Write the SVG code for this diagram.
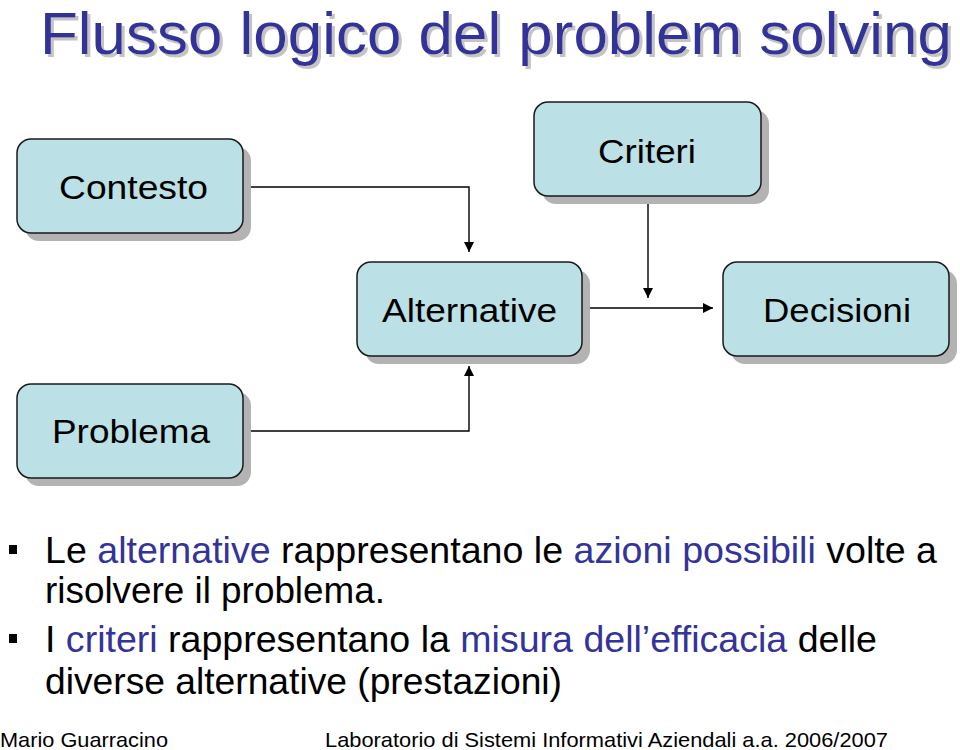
<svg xmlns="http://www.w3.org/2000/svg" width="960" height="750" viewBox="0 0 960 750">
<style>
text{font-family:"Liberation Sans",Arial,sans-serif}
.shadow{fill:#b3b3b3}
.box{fill:#bbe0e5;stroke:#1a1a1a;stroke-width:1.5}
.lbl{font-size:34px;fill:#000}
.body{font-size:37px;fill:#000}
.hl{fill:#333399}
.foot{font-size:21px;fill:#000}
.conn{fill:none;stroke:#000;stroke-width:1.4}
</style>
<defs>
<marker id="ah" viewBox="0 0 10 10" refX="10" refY="5" markerWidth="10" markerHeight="10" markerUnits="userSpaceOnUse" orient="auto">
<path d="M0,0 L10,5 L0,10 Z" fill="#000"/>
</marker>
<filter id="tshadow" x="-5%" y="-20%" width="110%" height="140%">
<feOffset in="SourceAlpha" dx="3" dy="3" result="off"/>
<feFlood flood-color="#c4c4c4"/>
<feComposite in2="off" operator="in" result="sh"/>
<feMerge><feMergeNode in="sh"/><feMergeNode in="SourceGraphic"/></feMerge>
</filter>
</defs>
<rect width="960" height="750" fill="#fff"/>
<g id="title">
<text x="40" y="54" font-size="60" fill="#333399" filter="url(#tshadow)" textLength="912" lengthAdjust="spacingAndGlyphs">Flusso logico del problem solving</text>
</g>
<g id="connectors">
<path class="conn" d="M243,187 H469 V252" marker-end="url(#ah)"/>
<path class="conn" d="M243,431 H469 V366" marker-end="url(#ah)"/>
<path class="conn" d="M582,308 H713" marker-end="url(#ah)"/>
<path class="conn" d="M648,196 V298" marker-end="url(#ah)"/>
</g>
<g id="contesto">
<rect class="shadow" x="25" y="147" width="226" height="94" rx="14"/>
<rect class="box" x="17" y="139" width="226" height="94" rx="14"/>
<text class="lbl" x="59" y="199" textLength="149" lengthAdjust="spacingAndGlyphs">Contesto</text>
</g>
<g id="criteri">
<rect class="shadow" x="542" y="110" width="227" height="94" rx="14"/>
<rect class="box" x="534" y="102" width="227" height="94" rx="14"/>
<text class="lbl" x="598" y="163" textLength="98" lengthAdjust="spacingAndGlyphs">Criteri</text>
</g>
<g id="alternative">
<rect class="shadow" x="365" y="270" width="225" height="94" rx="14"/>
<rect class="box" x="357" y="262" width="225" height="94" rx="14"/>
<text class="lbl" x="382" y="322" textLength="175" lengthAdjust="spacingAndGlyphs">Alternative</text>
</g>
<g id="decisioni">
<rect class="shadow" x="731" y="270" width="226" height="94" rx="14"/>
<rect class="box" x="723" y="262" width="226" height="94" rx="14"/>
<text class="lbl" x="763" y="322" textLength="148" lengthAdjust="spacingAndGlyphs">Decisioni</text>
</g>
<g id="problema">
<rect class="shadow" x="25" y="392" width="226" height="94" rx="14"/>
<rect class="box" x="17" y="384" width="226" height="94" rx="14"/>
<text class="lbl" x="52" y="443" textLength="158" lengthAdjust="spacingAndGlyphs">Problema</text>
</g>
<g id="bullets">
<rect x="9" y="545" width="8" height="9" fill="#000"/>
<text class="body" x="45" y="563" textLength="892" lengthAdjust="spacingAndGlyphs">Le <tspan class="hl">alternative</tspan> rappresentano le <tspan class="hl">azioni possibili</tspan> volte a</text>
<text class="body" x="45" y="603" textLength="340" lengthAdjust="spacingAndGlyphs">risolvere il problema.</text>
<rect x="9" y="634" width="8" height="9" fill="#000"/>
<text class="body" x="45" y="652" textLength="832" lengthAdjust="spacingAndGlyphs">I <tspan class="hl">criteri</tspan> rappresentano la <tspan class="hl">misura dell’efficacia</tspan> delle</text>
<text class="body" x="45" y="694" textLength="517" lengthAdjust="spacingAndGlyphs">diverse alternative (prestazioni)</text>
</g>
<g id="footer">
<text class="foot" x="0" y="747" textLength="168" lengthAdjust="spacingAndGlyphs">Mario Guarracino</text>
<text class="foot" x="325" y="747" textLength="563" lengthAdjust="spacingAndGlyphs">Laboratorio di Sistemi Informativi Aziendali a.a. 2006/2007</text>
</g>
</svg>
